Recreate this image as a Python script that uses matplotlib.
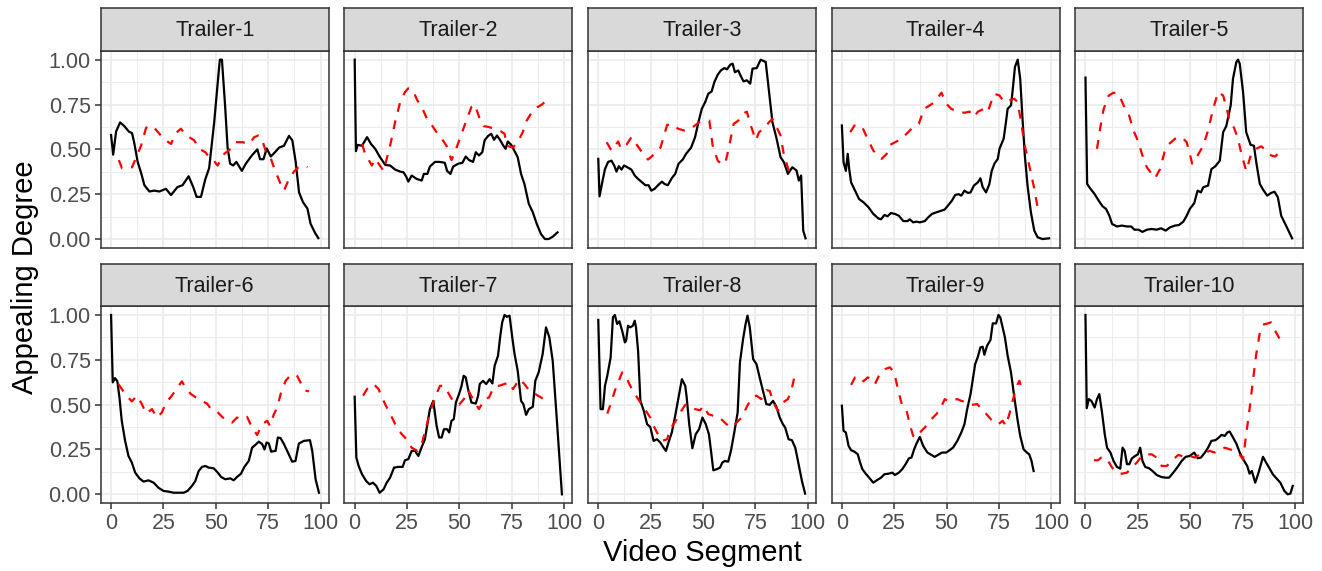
import matplotlib
matplotlib.use("Agg")
import matplotlib.pyplot as plt

# (segment, appealing degree)
# black = observed, red = predicted (dashed)
t1_black = [(0, 0.58), (1, 0.47), (2.4, 0.60), (4.3, 0.65), (6.3, 0.63), (8.4, 0.60), (10, 0.59), (11, 0.54),
            (12.7, 0.43), (14.3, 0.37), (15.9, 0.30), (18.3, 0.265), (20.6, 0.27), (23, 0.265), (26.2, 0.28),
            (28.6, 0.245), (31.7, 0.29), (34.1, 0.30), (37, 0.35), (39.2, 0.29), (40.8, 0.235), (42.9, 0.235),
            (45, 0.335), (46.8, 0.395), (49.2, 0.65), (50.8, 0.86), (51.9, 1.0), (52.9, 1.0), (54.4, 0.745),
            (55.6, 0.51), (56.8, 0.42), (58.3, 0.41), (59.8, 0.43), (62.4, 0.38), (64.3, 0.42), (67.1, 0.465),
            (69.8, 0.50), (71.1, 0.445), (72.7, 0.445), (74.3, 0.505), (76.2, 0.46), (78.3, 0.485), (80.2, 0.51),
            (82.5, 0.52), (84.9, 0.575), (86.5, 0.55), (88.1, 0.43), (89.7, 0.26), (91.6, 0.205), (93.7, 0.17),
            (95.2, 0.085), (97.3, 0.035), (98.9, 0.005)]
t1_red = [(3.7, 0.44), (5.2, 0.395), (10, 0.40), (14.3, 0.52), (16.7, 0.62), (18.6, 0.633), (20.6, 0.62),
          (23.8, 0.577), (26.2, 0.55), (28.6, 0.53), (30.6, 0.587), (33.3, 0.615), (36, 0.577), (39.7, 0.55),
          (42, 0.503), (45, 0.484), (46.8, 0.456), (48.4, 0.447), (50.8, 0.41), (54, 0.475), (57.1, 0.503),
          (59.5, 0.54), (62.7, 0.54), (65.9, 0.53), (68.3, 0.568), (70.3, 0.577), (71.9, 0.56), (73.8, 0.49),
          (76.2, 0.45), (78.3, 0.38), (80.6, 0.316), (82.5, 0.27), (84.9, 0.335), (87.3, 0.376), (89.4, 0.40),
          (91.6, 0.41), (93.7, 0.40)]

t2_black = [(0, 1.0), (0.6, 0.49), (1.4, 0.525), (3.5, 0.52), (5.9, 0.568), (7.8, 0.53), (9.8, 0.503),
            (11.9, 0.46), (14.6, 0.413), (16.9, 0.41), (19.3, 0.387), (21.7, 0.376), (23.3, 0.372), (24.5, 0.35),
            (25.6, 0.32), (27.2, 0.354), (29.6, 0.335), (32, 0.326), (33, 0.363), (34.7, 0.363), (35.9, 0.404),
            (38.3, 0.43), (40.7, 0.43), (43, 0.425), (44.1, 0.38), (45.7, 0.363), (47, 0.404), (49.4, 0.42),
            (51.4, 0.425), (53, 0.46), (54.6, 0.44), (56.5, 0.43), (57.8, 0.484), (59.3, 0.466), (60.9, 0.484),
            (62, 0.55), (63.6, 0.574), (65.2, 0.587), (66.5, 0.553), (67.9, 0.577), (69.5, 0.55), (70.7, 0.525),
            (72, 0.503), (73.1, 0.544), (74.7, 0.525), (76.3, 0.49), (77.8, 0.456), (79.4, 0.363), (81, 0.307),
            (83.1, 0.196), (85, 0.149), (86.9, 0.084), (88.9, 0.028), (90.8, 0.0), (92.6, 0.0), (94.5, 0.013),
            (96.8, 0.037)]
t2_red = [(3.5, 0.53), (5, 0.475), (8.2, 0.41), (9.8, 0.447), (13.8, 0.38), (16.9, 0.52), (19.3, 0.652),
          (21.7, 0.763), (24, 0.82), (25.6, 0.84), (27.7, 0.83), (29.9, 0.773), (32, 0.736), (34.7, 0.665),
          (36.7, 0.637), (39, 0.596), (41.5, 0.56), (43.8, 0.52), (46.2, 0.44), (47.8, 0.484), (50.2, 0.56),
          (53, 0.652), (55.7, 0.736), (57.3, 0.75), (59.7, 0.67), (61.5, 0.63), (64.1, 0.624), (66.8, 0.615),
          (69.1, 0.605), (71.5, 0.587), (72.6, 0.52), (75.5, 0.51), (77.8, 0.54), (80.2, 0.596), (82.1, 0.66),
          (85, 0.717), (87.3, 0.736), (89.4, 0.75), (92, 0.778)]

t3_black = [(0, 0.447), (0.6, 0.238), (1.9, 0.316), (3.2, 0.39), (4.7, 0.43), (6.3, 0.437), (7.6, 0.41),
            (8.7, 0.376), (9.8, 0.406), (11.1, 0.387), (12.3, 0.41), (13.9, 0.40), (15.8, 0.387), (17.4, 0.354),
            (19, 0.335), (20.9, 0.316), (22.5, 0.30), (24, 0.30), (25.3, 0.27), (26.9, 0.28), (28.5, 0.30),
            (30.4, 0.32), (31.6, 0.307), (33.2, 0.30), (35.1, 0.34), (36.7, 0.363), (38.3, 0.42), (40.3, 0.443),
            (41.9, 0.475), (44.3, 0.51), (46.2, 0.568), (47.8, 0.652), (49.4, 0.726), (51, 0.763), (52.5, 0.81),
            (54.1, 0.823), (55.4, 0.875), (57, 0.916), (58.5, 0.94), (60.1, 0.953), (61.4, 0.946), (63, 0.972),
            (64.1, 0.978), (65.2, 0.93), (66.8, 0.94), (68, 0.909), (69.3, 0.879), (70.9, 0.885), (72.5, 0.866),
            (73.6, 0.95), (75.6, 0.953), (77.5, 1.0), (79.9, 0.987), (81.5, 0.82), (83.1, 0.652), (85.1, 0.559),
            (87, 0.456), (88.6, 0.428), (90.5, 0.363), (92.6, 0.40), (94.6, 0.382), (95.7, 0.326), (96.8, 0.354),
            (97.8, 0.047), (98.9, 0.004)]
t3_red = [(4, 0.54), (6.3, 0.493), (9.5, 0.544), (10.8, 0.503), (13.4, 0.525), (15.8, 0.568), (18.7, 0.52),
          (21.4, 0.475), (23.7, 0.443), (26.9, 0.475), (29.7, 0.51), (31.6, 0.587), (32.9, 0.637), (36.1, 0.637),
          (38, 0.615), (41.1, 0.605), (43, 0.615), (45.1, 0.624), (48.3, 0.652), (50.6, 0.655), (53, 0.66),
          (54.6, 0.52), (57, 0.437), (59.3, 0.413), (60.9, 0.437), (62.5, 0.52), (64.6, 0.642), (66.8, 0.66),
          (68.8, 0.698), (70.9, 0.71), (72.5, 0.642), (75.2, 0.55), (76.7, 0.596), (79.1, 0.615), (81.5, 0.652),
          (83.1, 0.67), (85.1, 0.624), (87, 0.577), (88.6, 0.466), (91, 0.38), (92.6, 0.35)]

t4_black = [(0, 0.633), (0.8, 0.428), (1.9, 0.38), (2.8, 0.475), (3.5, 0.39), (4.4, 0.316), (5.5, 0.289),
            (7.1, 0.25), (8.2, 0.223), (10.3, 0.205), (12.7, 0.177), (15, 0.14), (17.4, 0.115), (18.7, 0.11),
            (20.3, 0.134), (21.8, 0.127), (23.4, 0.145), (25.3, 0.14), (27.2, 0.13), (29.3, 0.10), (31.3, 0.10),
            (32.4, 0.11), (34, 0.093), (35.6, 0.097), (37.2, 0.093), (39.6, 0.10), (41.1, 0.12), (43, 0.14),
            (45.1, 0.149), (47.5, 0.158), (49, 0.164), (50.6, 0.186), (52.5, 0.214), (54.1, 0.246), (55.7, 0.25),
            (57, 0.242), (58.5, 0.27), (60.1, 0.257), (61.4, 0.26), (63, 0.298), (64.9, 0.316), (66.1, 0.339),
            (67.2, 0.289), (68.8, 0.26), (70.4, 0.307), (71.5, 0.38), (72.8, 0.42), (74.4, 0.447), (75.2, 0.503),
            (77.2, 0.559), (78.3, 0.652), (79.1, 0.726), (80.7, 0.745), (81.5, 0.829), (82.6, 0.96), (83.9, 1.0),
            (85.1, 0.894), (86.2, 0.67), (87.3, 0.466), (88.6, 0.298), (90.2, 0.149), (91.8, 0.047), (93.4, 0.01),
            (95.7, 0.0), (98.9, 0.004)]
t4_red = [(4, 0.596), (6, 0.633), (9.5, 0.63), (11.9, 0.568), (15, 0.493), (19, 0.447), (21.4, 0.475), (23, 0.525),
          (26.1, 0.544), (28.5, 0.559), (30.9, 0.587), (34, 0.624), (36.7, 0.642), (39.2, 0.726), (41.9, 0.745),
          (44.3, 0.763), (47.5, 0.816), (49.8, 0.754), (52.2, 0.726), (55.4, 0.71), (58.5, 0.704), (60.9, 0.71),
          (63, 0.68), (64.9, 0.71), (67.7, 0.726), (69.6, 0.708), (71.2, 0.763), (72.8, 0.81), (75.2, 0.80),
          (77.5, 0.763), (79.9, 0.773), (82.3, 0.782), (83.9, 0.763), (85.4, 0.66), (87.3, 0.52), (89.4, 0.41),
          (91.5, 0.298), (93.7, 0.158)]

t5_black = [(0, 0.90), (0.8, 0.307), (2.4, 0.28), (4.4, 0.25), (6.3, 0.214), (8.2, 0.182), (9.8, 0.168),
            (11.4, 0.13), (12.7, 0.084), (15, 0.07), (17.4, 0.075), (19.8, 0.07), (21.8, 0.07), (23.4, 0.052),
            (25.3, 0.052), (27.2, 0.04), (29.3, 0.052), (31.6, 0.056), (34, 0.052), (36, 0.06), (38.3, 0.047),
            (40.3, 0.065), (42.7, 0.075), (44.6, 0.078), (46.7, 0.097), (48.3, 0.13), (49.8, 0.168), (51.9, 0.20),
            (53.5, 0.27), (55.1, 0.26), (56.2, 0.289), (58.5, 0.298), (60.1, 0.39), (62, 0.406), (64.1, 0.437),
            (65.7, 0.596), (67.2, 0.63), (69.3, 0.745), (70.4, 0.894), (72, 0.987), (72.8, 1.0), (73.6, 0.978),
            (75.2, 0.82), (76.7, 0.596), (78.8, 0.525), (80.4, 0.52), (81.5, 0.428), (83.2, 0.307), (84.7, 0.276),
            (86.7, 0.242), (88.6, 0.257), (90.2, 0.264), (91.8, 0.233), (93.4, 0.13), (95.7, 0.075), (98.6, 0.004)]
t5_red = [(5.5, 0.503), (7.1, 0.624), (8.7, 0.726), (11.1, 0.80), (13.4, 0.816), (15.8, 0.81), (18.2, 0.745),
          (20.6, 0.698), (22.9, 0.605), (25.3, 0.54), (26.9, 0.475), (29.3, 0.40), (31.6, 0.363), (33.2, 0.339),
          (35.6, 0.39), (37.7, 0.484), (39.9, 0.53), (42.7, 0.559), (45.9, 0.568), (48.3, 0.54), (49.8, 0.475),
          (50.9, 0.42), (53.5, 0.466), (56.2, 0.52), (58.5, 0.605), (60.9, 0.726), (63.3, 0.82), (65.7, 0.80),
          (67.2, 0.736), (68.8, 0.66), (70.9, 0.62), (72.8, 0.559), (74.4, 0.475), (76.7, 0.38), (79.1, 0.475),
          (81.5, 0.503), (83.9, 0.517), (86.2, 0.493), (88.6, 0.466), (90.5, 0.46), (92.6, 0.484)]

t6_black = [(0, 1.0), (0.8, 0.624), (1.9, 0.648), (3, 0.63), (4, 0.54), (5.1, 0.41), (6.7, 0.298), (8.3, 0.214),
            (9.9, 0.177), (11.5, 0.121), (13.6, 0.088), (15.5, 0.071), (17.9, 0.078), (20.3, 0.065), (22.6, 0.037),
            (25, 0.019), (27.4, 0.015), (29.8, 0.009), (32.2, 0.009), (34.6, 0.009), (36.5, 0.019), (38.6, 0.047),
            (40.2, 0.074), (41.8, 0.13), (43.4, 0.153), (45, 0.158), (46.6, 0.149), (49, 0.145), (50.9, 0.121),
            (52.5, 0.097), (54.5, 0.084), (56.9, 0.089), (58.5, 0.078), (60.1, 0.097), (62, 0.115), (63.6, 0.153),
            (65.7, 0.186), (67.3, 0.26), (68.9, 0.276), (70.5, 0.294), (72.1, 0.28), (73.2, 0.25), (74.2, 0.289),
            (75.3, 0.283), (76.4, 0.238), (78.5, 0.242), (79.6, 0.317), (80.9, 0.313), (82.5, 0.28), (84.4, 0.233),
            (86.4, 0.182), (88, 0.186), (89.6, 0.283), (92, 0.298), (94.9, 0.302), (96, 0.242), (97.6, 0.084),
            (99.2, 0.009)]
t6_red = [(3.5, 0.615), (6.7, 0.559), (9.9, 0.518), (12.3, 0.55), (14.7, 0.503), (16.7, 0.45), (19.5, 0.475),
          (21.9, 0.428), (24.2, 0.456), (26.3, 0.512), (29, 0.55), (31.7, 0.596), (33.8, 0.63), (35.9, 0.587),
          (38.1, 0.559), (41, 0.536), (43.4, 0.52), (45.8, 0.506), (47.7, 0.475), (50.2, 0.466), (53, 0.432),
          (55.3, 0.41), (57.7, 0.40), (60.1, 0.428), (62.5, 0.42), (64.9, 0.432), (67.3, 0.372), (69.7, 0.331),
          (72.1, 0.391), (74.5, 0.41), (75.8, 0.382), (77.7, 0.447), (79.3, 0.484), (80.9, 0.559), (83.3, 0.633),
          (85.3, 0.66), (86.9, 0.67), (88.8, 0.66), (90.4, 0.624), (92.3, 0.58), (94.4, 0.574)]

t7_black = [(0, 0.544), (0.8, 0.205), (1.9, 0.158), (3.5, 0.112), (5.5, 0.074), (7.1, 0.056), (8.7, 0.065),
            (10.3, 0.047), (11.9, 0.009), (13.8, 0.028), (15.3, 0.065), (16.9, 0.093), (18.8, 0.149), (20.9, 0.153),
            (22.9, 0.153), (24, 0.19), (25.6, 0.196), (27.2, 0.242), (28.8, 0.242), (30.4, 0.214), (32, 0.264),
            (33.5, 0.307), (34.7, 0.391), (35.9, 0.475), (37.5, 0.521), (39.1, 0.382), (40.3, 0.317), (41.5, 0.317),
            (42.6, 0.363), (44.1, 0.363), (45.1, 0.345), (46.2, 0.41), (47.3, 0.419), (48.3, 0.512), (49.8, 0.559),
            (50.9, 0.60), (52, 0.661), (53, 0.652), (54.1, 0.587), (55.7, 0.512), (57.8, 0.506), (58.9, 0.55),
            (59.7, 0.615), (61.2, 0.633), (62.8, 0.615), (64.4, 0.642), (65.7, 0.618), (66.8, 0.717), (68.4, 0.773),
            (69.5, 0.885), (70.4, 0.959), (71.5, 1.0), (72.6, 0.99), (73.9, 0.996), (75.2, 0.875), (76.3, 0.782),
            (77.8, 0.689), (79.4, 0.521), (80.5, 0.503), (81.8, 0.443), (83.1, 0.475), (85, 0.488), (86.2, 0.633),
            (87.8, 0.68), (89.7, 0.782), (91.3, 0.931), (92.9, 0.875), (94.5, 0.745), (96.4, 0.428), (98.9, 0.0)]
t7_red = [(4, 0.55), (5.9, 0.587), (9, 0.615), (11.4, 0.587), (13.8, 0.521), (16.1, 0.466), (18.2, 0.419),
          (20.1, 0.372), (22.5, 0.335), (24.8, 0.307), (27.2, 0.26), (29.9, 0.242), (32, 0.279), (34, 0.372),
          (36.2, 0.466), (38.3, 0.54), (40.7, 0.605), (42.6, 0.605), (44.1, 0.577), (47, 0.518), (49.8, 0.499),
          (52.1, 0.531), (54.1, 0.581), (56.5, 0.531), (59.3, 0.475), (62, 0.531), (64.1, 0.54), (66.3, 0.596),
          (68.8, 0.605), (71.5, 0.615), (73.9, 0.624), (75.5, 0.587), (77.1, 0.615), (78.6, 0.642), (81, 0.615),
          (83.4, 0.577), (86.2, 0.559), (88.9, 0.54), (92.1, 0.518)]

t8_black = [(0, 0.972), (1.1, 0.475), (2.2, 0.475), (3.2, 0.605), (4.3, 0.661), (5.9, 0.763), (7, 0.987),
            (7.9, 1.0), (9, 0.95), (10.1, 0.965), (11.4, 0.912), (12.7, 0.847), (13.3, 0.857), (14.2, 0.94),
            (15.3, 0.931), (16.5, 0.94), (17.4, 0.968), (18, 0.931), (19, 0.80), (20.1, 0.521), (21.7, 0.466),
            (23.3, 0.391), (24.8, 0.376), (26.4, 0.298), (28, 0.307), (29.6, 0.289), (31.2, 0.26), (32.3, 0.242),
            (33.5, 0.289), (35.1, 0.345), (36.7, 0.438), (38.3, 0.54), (39.9, 0.642), (41.5, 0.605), (42.2, 0.54),
            (43.4, 0.391), (44.9, 0.257), (46.5, 0.335), (48.1, 0.363), (49.7, 0.428), (51.3, 0.391), (52.8, 0.335),
            (53.8, 0.242), (54.9, 0.134), (56.5, 0.14), (58.1, 0.149), (59.2, 0.177), (60.4, 0.186), (62, 0.182),
            (63.3, 0.242), (64.9, 0.345), (66.5, 0.456), (67.6, 0.736), (69.1, 0.866), (70.3, 0.95), (71.2, 0.996),
            (72.3, 0.931), (73.9, 0.754), (75.5, 0.726), (77, 0.652), (78.6, 0.577), (80.2, 0.503), (81.8, 0.499),
            (83.4, 0.521), (85, 0.488), (86.6, 0.428), (88.1, 0.391), (89.2, 0.372), (90.8, 0.307), (92.4, 0.302),
            (94, 0.26), (95.3, 0.186), (97.2, 0.074), (98.7, 0.004)]
t8_red = [(4.3, 0.45), (5.9, 0.503), (7.9, 0.577), (9.8, 0.633), (11.4, 0.68), (13.3, 0.652), (15.8, 0.592),
          (18, 0.55), (20.1, 0.512), (22.2, 0.475), (24.8, 0.428), (26.4, 0.382), (28, 0.345), (30.4, 0.298),
          (32.8, 0.307), (34.8, 0.372), (37, 0.41), (39.1, 0.456), (41.5, 0.499), (43.8, 0.494), (46.2, 0.475),
          (48.6, 0.469), (50.2, 0.494), (52.5, 0.447), (54.9, 0.438), (57.3, 0.432), (59.2, 0.413), (61.2, 0.391),
          (63.6, 0.372), (66, 0.40), (68.4, 0.428), (70.7, 0.484), (73.1, 0.536), (75.5, 0.55), (77.8, 0.531),
          (80.2, 0.581), (81.8, 0.577), (83.9, 0.503), (85.8, 0.466), (88.1, 0.512), (90.5, 0.531), (92.1, 0.577),
          (93.7, 0.661)]

t9_black = [(0, 0.494), (0.8, 0.354), (1.9, 0.345), (3.2, 0.27), (4.4, 0.246), (6, 0.238), (7.6, 0.223),
            (8.7, 0.177), (9.8, 0.14), (11.4, 0.115), (13, 0.093), (15, 0.065), (16.6, 0.078), (18.7, 0.093),
            (20.3, 0.112), (22.2, 0.115), (24.1, 0.121), (25.3, 0.108), (27.2, 0.121), (28.8, 0.14), (30.4, 0.168),
            (32, 0.201), (33.2, 0.205), (34.5, 0.251), (35.6, 0.283), (37.2, 0.32), (38.8, 0.27), (40.8, 0.233),
            (42.7, 0.22), (44.3, 0.209), (45.9, 0.22), (47.8, 0.233), (49.8, 0.233), (51.4, 0.246), (53, 0.26),
            (55.1, 0.298), (57, 0.345), (58.5, 0.391), (59.8, 0.475), (61.4, 0.559), (62.5, 0.642), (63.6, 0.726),
            (64.9, 0.767), (66.1, 0.819), (67.2, 0.823), (68, 0.778), (69.3, 0.829), (70.9, 0.86), (72, 0.953),
            (73.6, 0.953), (74.7, 1.0), (75.6, 0.987), (76.7, 0.931), (77.8, 0.875), (79.1, 0.773), (80.7, 0.68),
            (82.3, 0.54), (83.9, 0.41), (85.1, 0.326), (86.7, 0.251), (88.3, 0.233), (89.4, 0.223), (90.5, 0.186),
            (91.5, 0.13)]
t9_red = [(4.4, 0.61), (6.3, 0.652), (8.7, 0.655), (10.3, 0.63), (12.3, 0.652), (14.2, 0.642), (15.8, 0.615),
          (18.2, 0.674), (20.6, 0.698), (22.9, 0.708), (25, 0.68), (26.9, 0.577), (28.8, 0.494), (30.9, 0.466),
          (32.4, 0.391), (34, 0.326), (35.6, 0.317), (38, 0.354), (40.3, 0.382), (42.7, 0.419), (45.1, 0.447),
          (47.2, 0.484), (49.1, 0.531), (50.9, 0.518), (53, 0.525), (55.1, 0.531), (57, 0.521), (59.8, 0.512),
          (62, 0.499), (64.6, 0.503), (66.8, 0.475), (69.3, 0.443), (72, 0.406), (74.7, 0.391), (76.7, 0.41),
          (78.3, 0.382), (79.9, 0.447), (81.5, 0.521), (83.1, 0.596), (84.7, 0.633), (85.4, 0.605)]

t10_black = [(0, 1.0), (0.6, 0.48), (1.6, 0.531), (2.8, 0.521), (4.4, 0.484), (5.5, 0.531), (6.6, 0.559),
             (7.9, 0.456), (9.2, 0.335), (10.3, 0.26), (11.9, 0.233), (13.4, 0.186), (15, 0.153), (16.6, 0.143),
             (17.7, 0.26), (18.7, 0.242), (19.8, 0.168), (20.9, 0.168), (22.2, 0.201), (23.7, 0.214), (25, 0.223),
             (26.1, 0.26), (27.2, 0.186), (28.5, 0.153), (30.4, 0.145), (32, 0.13), (34, 0.108), (36.1, 0.097),
             (38, 0.093), (39.9, 0.093), (41.9, 0.121), (44, 0.153), (45.9, 0.186), (47.8, 0.209), (49.8, 0.214),
             (51.9, 0.233), (53.5, 0.201), (55.1, 0.205), (57, 0.233), (58.5, 0.26), (60.1, 0.298), (62, 0.302),
             (63.3, 0.313), (64.9, 0.331), (66.5, 0.326), (67.7, 0.345), (68.8, 0.35), (70.4, 0.317), (72, 0.283),
             (73.6, 0.233), (75.2, 0.196), (77.2, 0.158), (78.3, 0.115), (79.4, 0.13), (81, 0.065), (82.6, 0.121),
             (84.7, 0.209), (86.2, 0.177), (87.8, 0.145), (89.4, 0.112), (91.5, 0.084), (93, 0.065), (94.9, 0.019),
             (96.5, 0.0), (97.8, 0.004), (98.9, 0.047)]
t10_red = [(4, 0.19), (6, 0.19), (7.9, 0.209), (10.3, 0.196), (12.7, 0.149), (15, 0.121), (17.4, 0.115),
           (19.8, 0.121), (22.2, 0.149), (24.5, 0.177), (26.9, 0.214), (29.3, 0.223), (31.6, 0.223), (34, 0.205),
           (36.4, 0.158), (38.8, 0.158), (41.1, 0.186), (44.3, 0.22), (47.2, 0.209), (49.8, 0.214), (52.2, 0.205),
           (54.6, 0.223), (57, 0.233), (59.3, 0.242), (61.7, 0.233), (64.1, 0.251), (66.5, 0.26), (68.8, 0.251),
           (71.2, 0.242), (73.6, 0.22), (75.2, 0.196), (76.7, 0.335), (78.3, 0.475), (79.9, 0.633), (81.5, 0.782),
           (83.1, 0.894), (84.7, 0.946), (87, 0.953), (88.6, 0.959), (90.5, 0.912), (93, 0.86)]

titles = ["Trailer-%d" % i for i in range(1, 11)]
blacks = [t1_black, t2_black, t3_black, t4_black, t5_black, t6_black, t7_black, t8_black, t9_black, t10_black]
reds = [t1_red, t2_red, t3_red, t4_red, t5_red, t6_red, t7_red, t8_red, t9_red, t10_red]

x_ticks = [0, 25, 50, 75, 100]
y_ticks = [0, 0.25, 0.5, 0.75, 1.0]
y_labels = ["0.00", "0.25", "0.50", "0.75", "1.00"]

plt.rcParams["font.family"] = ["Liberation Sans", "DejaVu Sans"]

W, H = 1322, 571
fig = plt.figure(figsize=(W / 100, H / 100), dpi=100)

panel_w, panel_h, strip_h = 228, 197.3, 42.4
col_left = [100.7 + i * 243.6 for i in range(5)]
row_top = [50.7, 306]
dark = "#333333"


def box(left, top, w, h):
    return [left / W, 1 - (top + h) / H, w / W, h / H]


for k in range(10):
    r, c = divmod(k, 5)
    ax = fig.add_axes(box(col_left[c], row_top[r], panel_w, panel_h))
    ax.set_xlim(-4.95, 103.85)
    ax.set_ylim(-0.05, 1.05)
    ax.set_xticks(x_ticks)
    ax.set_xticks([12.5, 37.5, 62.5, 87.5], minor=True)
    ax.set_yticks(y_ticks)
    ax.set_yticks([0.125, 0.375, 0.625, 0.875], minor=True)
    ax.grid(which="major", color="#EBEBEB", lw=1.2)
    ax.grid(which="minor", color="#EBEBEB", lw=0.65)
    ax.set_axisbelow(True)
    for s in ax.spines.values():
        s.set_color(dark)
        s.set_linewidth(1.1)

    bx, by = zip(*blacks[k])
    ax.plot(bx, by, color="black", lw=1.6, solid_joinstyle="round")
    rx, ry = zip(*reds[k])
    ax.plot(rx, ry, color="red", lw=1.6, linestyle=(0, (4, 4)))

    ax.tick_params(which="minor", length=0)
    ax.tick_params(which="major", length=4, width=1.1, color=dark, labelcolor="#4D4D4D",
                   labelsize=15.5, pad=3)
    if r == 1:
        ax.set_xticklabels([str(v) for v in x_ticks])
    else:
        ax.tick_params(axis="x", length=0, labelbottom=False)
    if c == 0:
        ax.set_yticklabels(y_labels)
    else:
        ax.tick_params(axis="y", length=0, labelleft=False)

    sx = fig.add_axes(box(col_left[c], row_top[r] - strip_h, panel_w, strip_h))
    sx.set_facecolor("#D9D9D9")
    sx.set_xticks([])
    sx.set_yticks([])
    for s in sx.spines.values():
        s.set_color(dark)
        s.set_linewidth(1.1)
    sx.text(0.5, 0.47, titles[k], ha="center", va="center", fontsize=15.5, color="#1A1A1A",
            transform=sx.transAxes)

fig.text((col_left[0] + col_left[4] + panel_w) / 2 / W, 1 - 553 / H, "Video Segment",
         ha="center", va="center", fontsize=21, color="black")
fig.text(25 / W, 1 - 277 / H, "Appealing Degree", ha="center", va="center", rotation=90,
         fontsize=21, color="black")

fig.savefig("out.png", dpi=100)
